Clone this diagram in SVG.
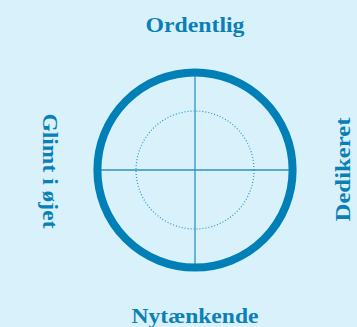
<svg xmlns="http://www.w3.org/2000/svg" width="357" height="327" viewBox="0 0 357 327">
<style>
.lbl{font-family:"Liberation Serif","DejaVu Serif",serif;font-weight:bold;font-size:22px;fill:#0a80b6;text-anchor:middle}
</style>
<rect width="357" height="327" fill="#d9f1fb"/>
<g id="connectors">
<line x1="101" y1="170" x2="289" y2="170" stroke="#2b93c3" stroke-width="1.3"/>
<line x1="195" y1="76" x2="195" y2="264" stroke="#2b93c3" stroke-width="1.3"/>
</g>
<g id="inner"><circle cx="195" cy="170" r="59" fill="none" stroke="#2b93c3" stroke-width="1.2" stroke-dasharray="1 2"/></g>
<g id="outer"><circle cx="195" cy="170" r="97.6" fill="none" stroke="#0080b6" stroke-width="8"/></g>
<g id="top"><text class="lbl" x="195" y="32" textLength="99" lengthAdjust="spacingAndGlyphs">Ordentlig</text></g>
<g id="bottom"><text class="lbl" x="195" y="323" textLength="127" lengthAdjust="spacingAndGlyphs">Nytænkende</text></g>
<g id="left"><text class="lbl" transform="translate(42.5,171) rotate(90)" textLength="115" lengthAdjust="spacingAndGlyphs">Glimt i øjet</text></g>
<g id="right"><text class="lbl" transform="translate(349.5,169.5) rotate(-90)" textLength="104" lengthAdjust="spacingAndGlyphs">Dedikeret</text></g>
</svg>
